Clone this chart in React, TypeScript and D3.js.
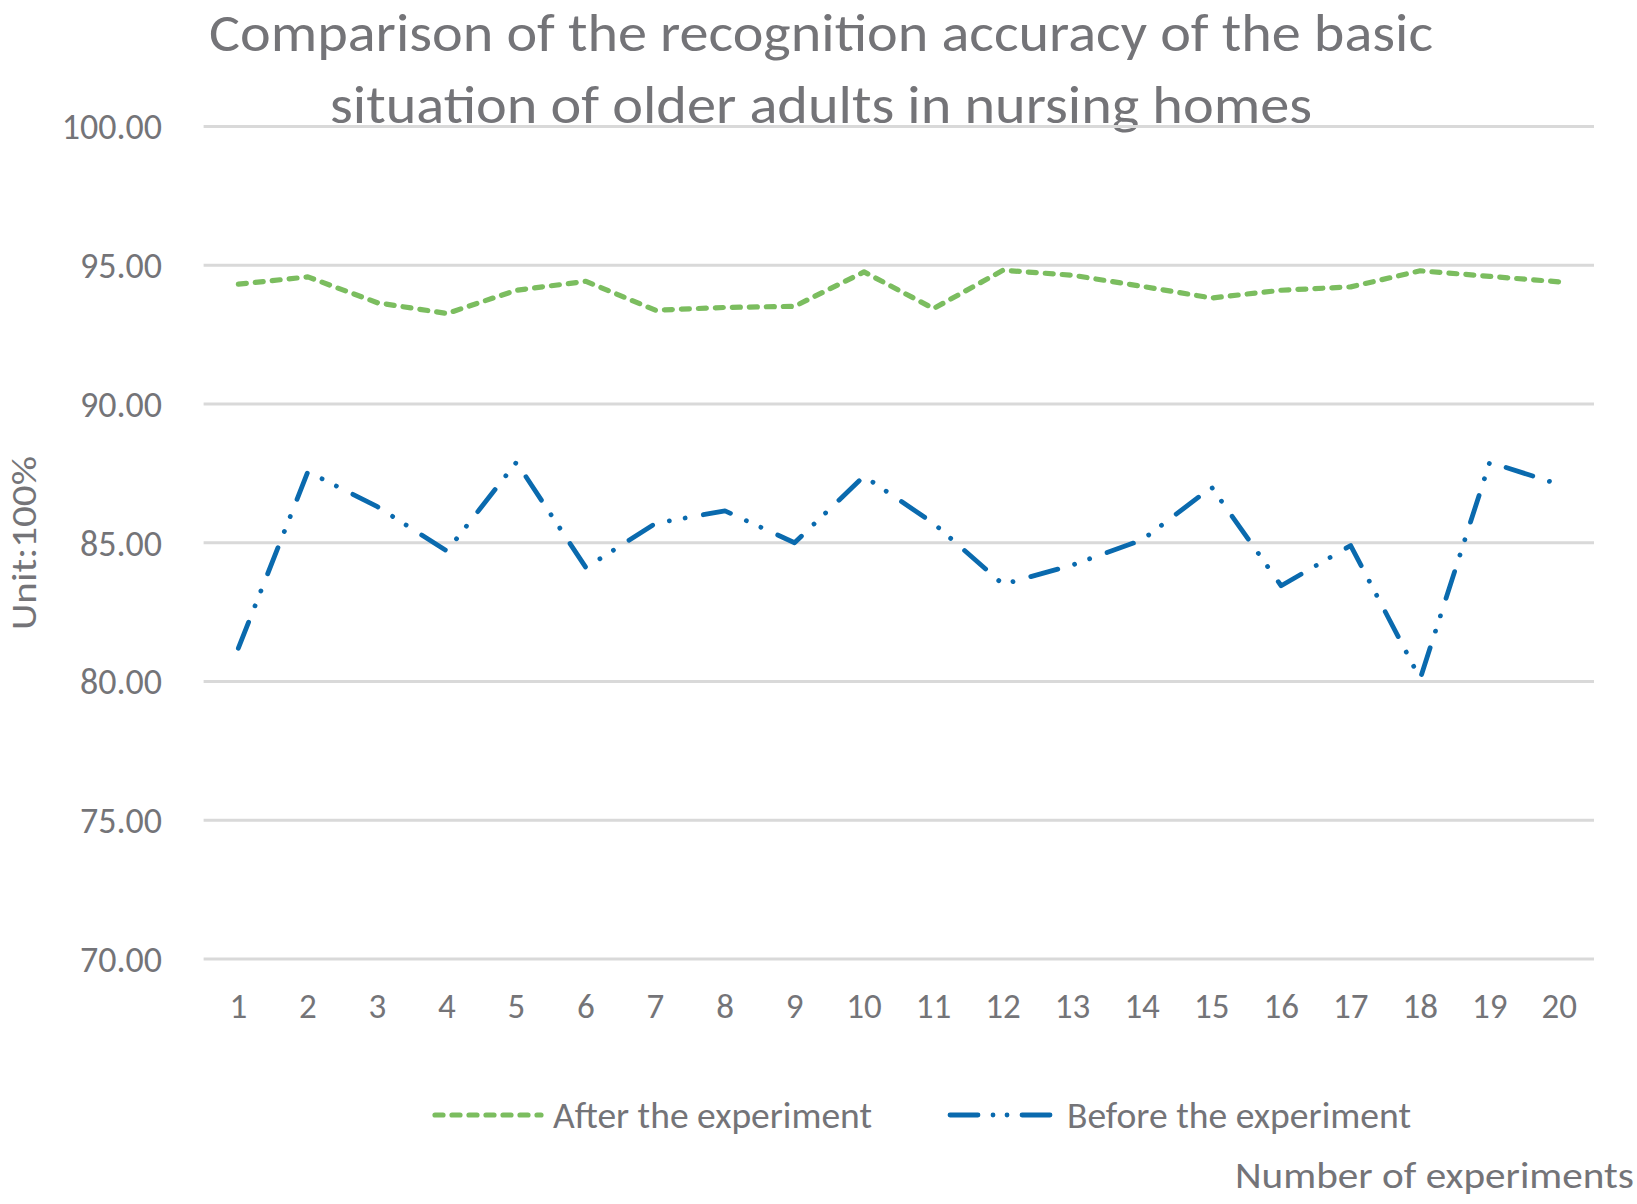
import * as d3 from "d3";

const categories = ["1", "2", "3", "4", "5", "6", "7", "8", "9", "10", "11", "12", "13", "14", "15", "16", "17", "18", "19", "20"];

const afterValues = [94.32, 94.58, 93.65, 93.26, 94.1, 94.42, 93.38, 93.48, 93.52, 94.76, 93.44, 94.82, 94.64, 94.24, 93.82, 94.1, 94.22, 94.8, 94.6, 94.4];
const beforeValues = [81.2, 87.56, 86.3, 84.7, 87.9, 84.1, 85.7, 86.15, 85.0, 87.4, 85.7, 83.5, 84.2, 85.1, 87.0, 83.45, 84.9, 80.1, 87.9, 87.1];

const yTicks = [70, 75, 80, 85, 90, 95, 100];

const titleLines = [
  "Comparison of the recognition accuracy of the basic",
  "situation of older adults in nursing homes",
];

const W = 1637;
const H = 1204;
const FONT = "Carlito, Calibri, Lato, sans-serif";
const TEXT = "#747478";
const GREEN = "#7bbd5f";
const BLUE = "#0a6aae";
const GREEN_DASH = "8 9";
const BLUE_DASH = "28 17.5 0.01 16 0.01 18.5";

export default function App() {
  const x = d3.scalePoint<string>().domain(categories).range([203.6, 1594]).padding(0.5);
  const y = d3.scaleLinear().domain([70, 100]).range([959, 126.5]);

  const line = d3
    .line<number>()
    .x((_d, i) => x(categories[i]) ?? 0)
    .y((d) => y(d));

  return (
    <>
      <style>{`body{margin:0}`}</style>
      <svg width={W} height={H} style={{ display: "block", background: "#fff" }} fontFamily={FONT}>
        {/* title */}
        {titleLines.map((t, i) => (
          <text
            key={t}
            x={821}
            y={51 + i * 72}
            textAnchor="middle"
            fontSize={54}
            fill={TEXT}
            textLength={i === 0 ? 1224 : 982}
            lengthAdjust="spacingAndGlyphs"
          >
            {t}
          </text>
        ))}

        {/* gridlines */}
        {yTicks.map((t) => (
          <line key={t} x1={203.6} x2={1594} y1={y(t)} y2={y(t)} stroke="#d9d9d9" strokeWidth={3.2} />
        ))}

        {/* y tick labels */}
        {yTicks.map((t) => (
          <text key={t} x={162} y={y(t)} dy="0.36em" textAnchor="end" fontSize={36} fill={TEXT}>
            {t.toFixed(2)}
          </text>
        ))}

        {/* x tick labels */}
        {categories.map((c) => (
          <text key={c} x={x(c)} y={1018} textAnchor="middle" fontSize={35} fill={TEXT}>
            {c}
          </text>
        ))}

        {/* series */}
        <path d={line(afterValues) ?? ""} fill="none" stroke={GREEN} strokeWidth={5.2} strokeDasharray={GREEN_DASH} strokeLinecap="round" strokeLinejoin="round" />
        <path d={line(beforeValues) ?? ""} fill="none" stroke={BLUE} strokeWidth={4.8} strokeDasharray={BLUE_DASH} strokeLinecap="round" strokeLinejoin="round" />

        {/* legend */}
        <line x1={435} x2={541} y1={1115} y2={1115} stroke={GREEN} strokeWidth={5.2} strokeDasharray={GREEN_DASH} strokeLinecap="round" />
        <text x={553} y={1128} fontSize={36} fill={TEXT} textLength={319} lengthAdjust="spacingAndGlyphs">
          After the experiment
        </text>
        <line x1={950} x2={1060} y1={1115} y2={1115} stroke={BLUE} strokeWidth={4.8} strokeDasharray="28 15 0.01 14 0.01 15" strokeLinecap="round" />
        <text x={1067} y={1128} fontSize={36} fill={TEXT} textLength={344} lengthAdjust="spacingAndGlyphs">
          Before the experiment
        </text>

        {/* axis titles */}
        <text x={1634} y={1188} textAnchor="end" fontSize={36} fill={TEXT} textLength={399} lengthAdjust="spacingAndGlyphs">
          Number of experiments
        </text>
        <text
          transform={`translate(36,543) rotate(-90)`}
          textAnchor="middle"
          fontSize={35}
          fill={TEXT}
          textLength={174}
          lengthAdjust="spacingAndGlyphs"
        >
          Unit:100%
        </text>
      </svg>
    </>
  );
}
